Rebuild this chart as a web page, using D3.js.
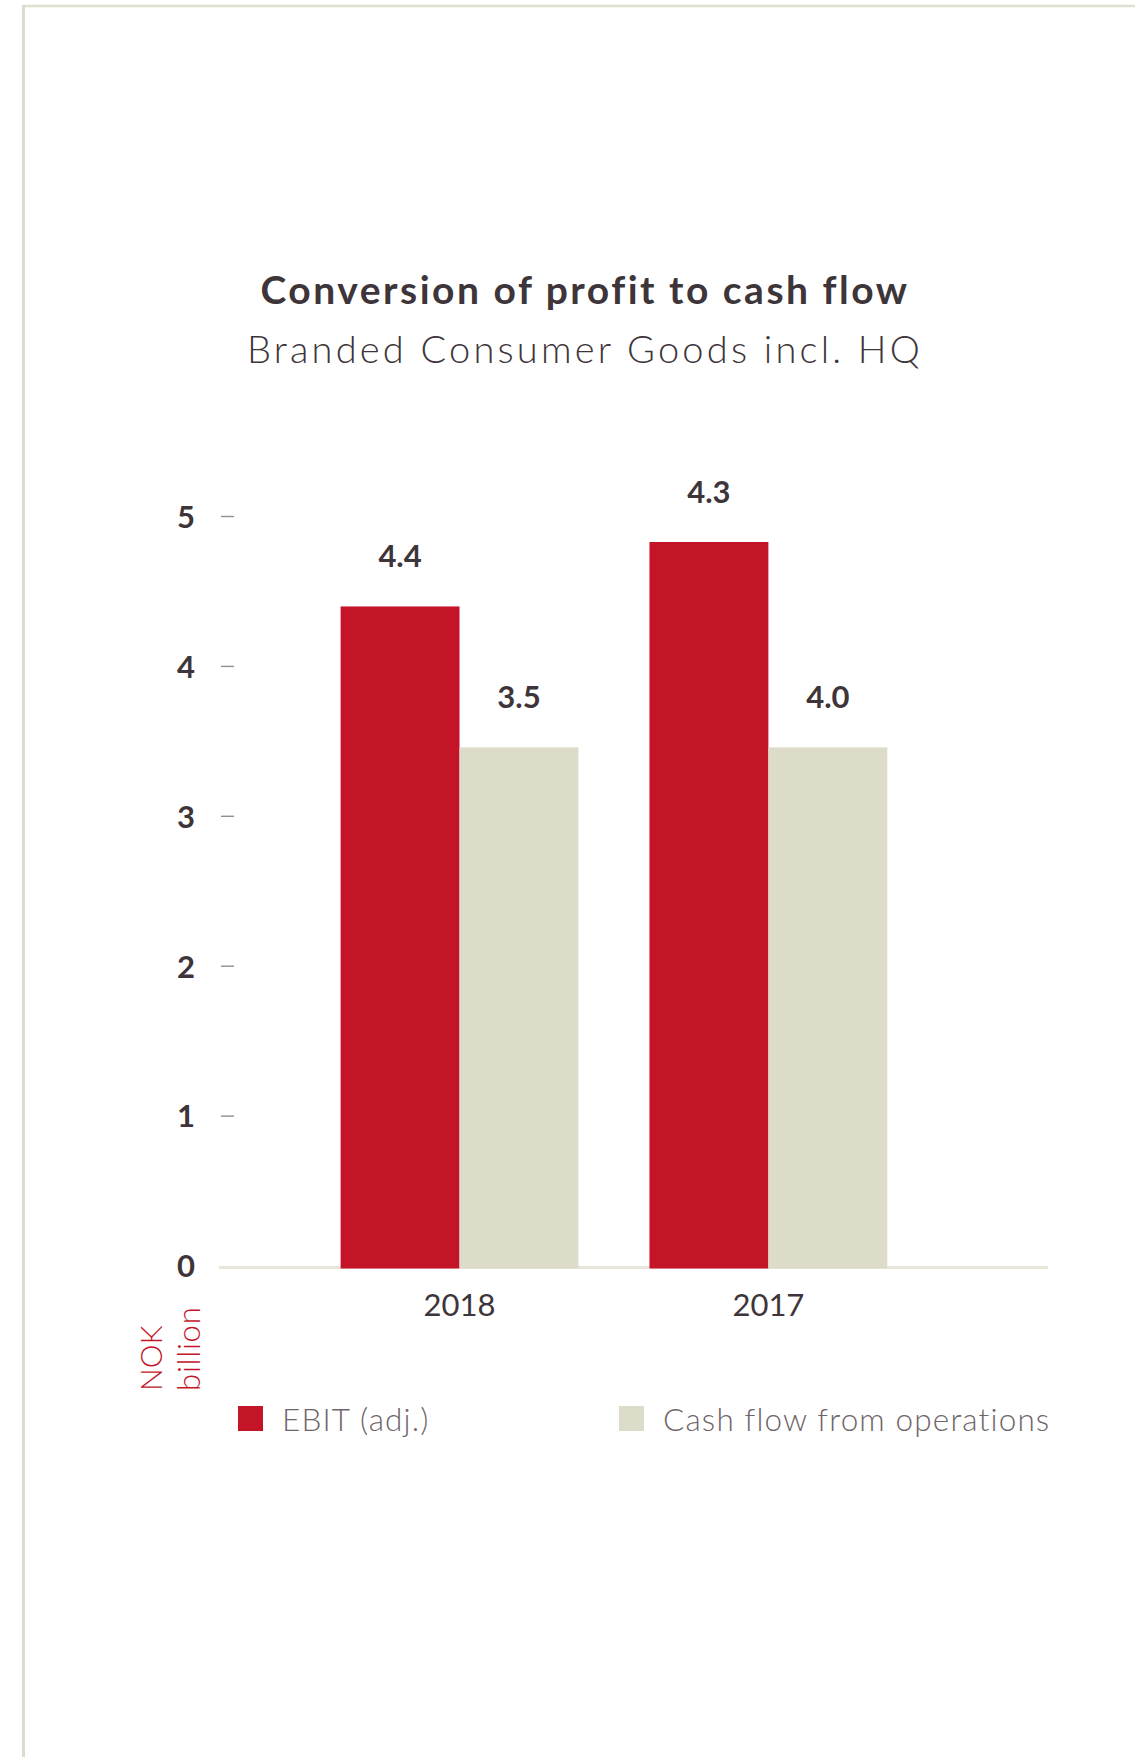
<!DOCTYPE html>
<html>
<head>
<meta charset="utf-8">
<script src="https://cdn.jsdelivr.net/npm/d3@7"></script>
<style>
  html, body { margin: 0; padding: 0; background: #ffffff; }
  svg { display: block; }
  text { font-family: Lato, "Open Sans", sans-serif; }
</style>
</head>
<body>
<svg id="chart" width="1135" height="1757"></svg>
<script>
// ---- data ----
const title = "Conversion of profit to cash flow";
const subtitle = "Branded Consumer Goods incl. HQ";
const categories = ["2018", "2017"];
const seriesNames = ["EBIT (adj.)", "Cash flow from operations"];
// bar heights as drawn in the picture
const ebitValues = [4.41, 4.84];
const cashValues = [3.47, 3.47];
// value labels as printed above the bars
const ebitLabels = ["4.4", "4.3"];
const cashLabels = ["3.5", "4.0"];
const yTicks = [0, 1, 2, 3, 4, 5];
const unitLabel = ["NOK", "billion"];

// ---- styles ----
const RED = "#c41428";
const BEIGE = "#dddccb";
const DARK = "#3d3539";
const GREY = "#6e6569";

const svg = d3.select("#chart");

// frame
svg.append("line").attr("x1", 22).attr("x2", 1135).attr("y1", 6).attr("y2", 6)
  .attr("stroke", "#e0dfd0").attr("stroke-width", 2.5);
svg.append("line").attr("x1", 23.5).attr("x2", 23.5).attr("y1", 5).attr("y2", 1757)
  .attr("stroke", "#dddccb").attr("stroke-width", 3);

// titles
svg.append("text").attr("x", 585).attr("y", 304).attr("text-anchor", "middle")
  .attr("font-size", 39).attr("font-weight", 700).attr("fill", DARK)
  .attr("letter-spacing", 2.5).text(title);
svg.append("text").attr("x", 585).attr("y", 363).attr("text-anchor", "middle")
  .attr("font-size", 38).attr("font-weight", 300).attr("fill", DARK)
  .attr("letter-spacing", 3.2).text(subtitle);

// scales
const y = d3.scaleLinear().domain([0, 5]).range([1267.5, 518]);
const x0 = d3.scaleBand().domain(categories).range([340.6, 887.3])
  .paddingInner(0.23).paddingOuter(0);
const x1 = d3.scaleBand().domain(seriesNames).range([0, x0.bandwidth()]).padding(0);

// y axis ticks
const yAxis = d3.axisLeft(y).tickValues(yTicks).tickSize(0).tickPadding(0)
  .tickFormat(d3.format("d"));
const gy = svg.append("g").attr("transform", "translate(195,0)").call(yAxis);
gy.select(".domain").remove();
gy.selectAll("text").attr("font-size", 31).attr("font-weight", 700)
  .attr("fill", DARK).attr("font-family", "Lato, sans-serif").attr("dy", "0.3em");
gy.selectAll(".tick").filter(d => d !== 0).append("line")
  .attr("x1", 26).attr("x2", 39).attr("y1", -2).attr("y2", -2)
  .attr("stroke", "#8f8f8f").attr("stroke-width", 1.4);

// rows
const rows = categories.map((c, i) => ({
  cat: c,
  bars: [
    { s: seriesNames[0], v: ebitValues[i], label: ebitLabels[i], color: RED },
    { s: seriesNames[1], v: cashValues[i], label: cashLabels[i], color: BEIGE }
  ]
}));

// baseline
svg.append("line").attr("x1", 219).attr("x2", 1048).attr("y1", y(0)).attr("y2", y(0))
  .attr("stroke", "#e8e6da").attr("stroke-width", 3);

const groups = svg.selectAll("g.grp").data(rows).join("g").attr("class", "grp")
  .attr("transform", d => `translate(${x0(d.cat)},0)`);

groups.selectAll("rect").data(d => d.bars).join("rect")
  .attr("x", d => x1(d.s)).attr("width", x1.bandwidth())
  .attr("y", d => y(d.v)).attr("height", d => y(0) + 1 - y(d.v))
  .attr("fill", d => d.color);

groups.selectAll("text.val").data(d => d.bars).join("text").attr("class", "val")
  .attr("x", d => x1(d.s) + x1.bandwidth() / 2).attr("y", d => y(d.v) - 39)
  .attr("text-anchor", "middle").attr("font-size", 31).attr("font-weight", 700)
  .attr("fill", DARK).text(d => d.label);

// x axis labels
const xAxis = d3.axisBottom(x0).tickSize(0).tickPadding(0);
const gx = svg.append("g").attr("transform", `translate(0,${y(0)})`).call(xAxis);
gx.select(".domain").remove();
gx.selectAll("text").attr("font-size", 31).attr("font-weight", 400)
  .attr("fill", DARK).attr("font-family", "Lato, sans-serif")
  .attr("dy", 0).attr("y", 48.5);

// unit label (rotated)
svg.append("text").attr("transform", "translate(162,1391) rotate(-90)")
  .attr("font-size", 30).attr("font-weight", 300).attr("fill", RED).text(unitLabel[0]);
svg.append("text").attr("transform", "translate(200,1391) rotate(-90)")
  .attr("font-size", 31).attr("font-weight", 300).attr("fill", RED)
  .attr("letter-spacing", 0.8).text(unitLabel[1]);

// legend
const legendX = [238, 619];
const leg = svg.selectAll("g.leg").data(seriesNames).join("g").attr("class", "leg")
  .attr("transform", (d, i) => `translate(${legendX[i]},1406)`);
leg.append("rect").attr("width", 25).attr("height", 25)
  .attr("fill", (d, i) => i === 0 ? RED : BEIGE);
leg.append("text").attr("x", 44).attr("y", 25).attr("font-size", 31.5)
  .attr("font-weight", 300).attr("fill", GREY).attr("letter-spacing", 1.15).text(d => d);
</script>
</body>
</html>
